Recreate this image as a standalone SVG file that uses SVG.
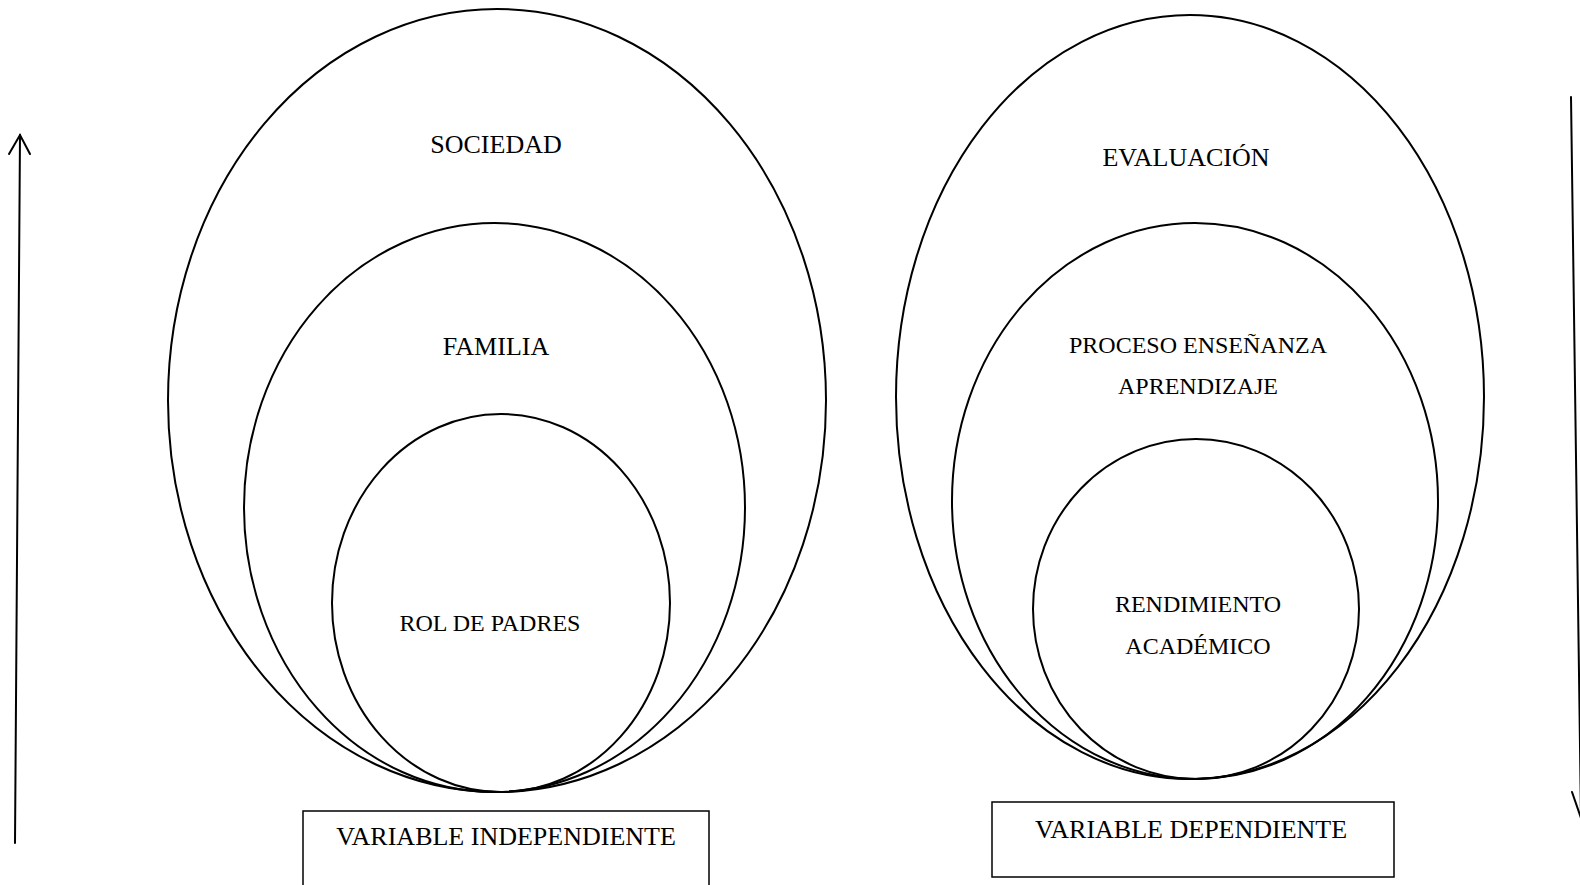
<svg xmlns="http://www.w3.org/2000/svg" width="1580" height="885" viewBox="0 0 1580 885">
<style>
.e{fill:none;stroke:#000;stroke-width:2}
.b{fill:#fff;stroke:#000;stroke-width:1.5}
.a{fill:none;stroke:#000;stroke-width:2;stroke-linecap:round}
text{font-family:"Liberation Serif","Times New Roman",serif;fill:#000;text-anchor:middle}
.l{font-size:26px}
.s{font-size:24px}
</style>
<rect width="1580" height="885" fill="#fff"/>
<g id="connectors">
<line class="a" x1="15" y1="843" x2="20" y2="135"/>
<polyline class="a" points="9,154 20,135 30,154"/>
<line class="a" x1="1571" y1="97" x2="1581" y2="818"/>
<line class="a" x1="1572" y1="792" x2="1581" y2="818"/>
</g>
<g id="sociedad"><ellipse class="e" cx="497" cy="400.5" rx="329" ry="391.5"/><text class="l" x="496" y="153">SOCIEDAD</text></g>
<g id="familia"><ellipse class="e" cx="494.5" cy="507.5" rx="250.5" ry="284.5"/><text class="l" x="496" y="355">FAMILIA</text></g>
<g id="rol"><ellipse class="e" cx="501" cy="603" rx="169" ry="189"/><text class="s" x="490" y="631">ROL DE PADRES</text></g>
<g id="evaluacion"><ellipse class="e" cx="1190" cy="397" rx="294" ry="382"/><text class="l" x="1186" y="166">EVALUACIÓN</text></g>
<g id="proceso"><ellipse class="e" cx="1195" cy="501" rx="243" ry="278"/><text class="s" x="1198" y="353">PROCESO ENSEÑANZA</text><text class="s" x="1198" y="394">APRENDIZAJE</text></g>
<g id="rendimiento"><ellipse class="e" cx="1196" cy="609" rx="163" ry="170"/><text class="s" x="1198" y="612">RENDIMIENTO</text><text class="s" x="1198" y="654">ACADÉMICO</text></g>
<g id="var-indep"><rect class="b" x="303" y="811" width="406" height="90"/><text class="l" x="506" y="845">VARIABLE INDEPENDIENTE</text></g>
<g id="var-dep"><rect class="b" x="992" y="802" width="402" height="75"/><text class="l" x="1191" y="838">VARIABLE DEPENDIENTE</text></g>
</svg>
